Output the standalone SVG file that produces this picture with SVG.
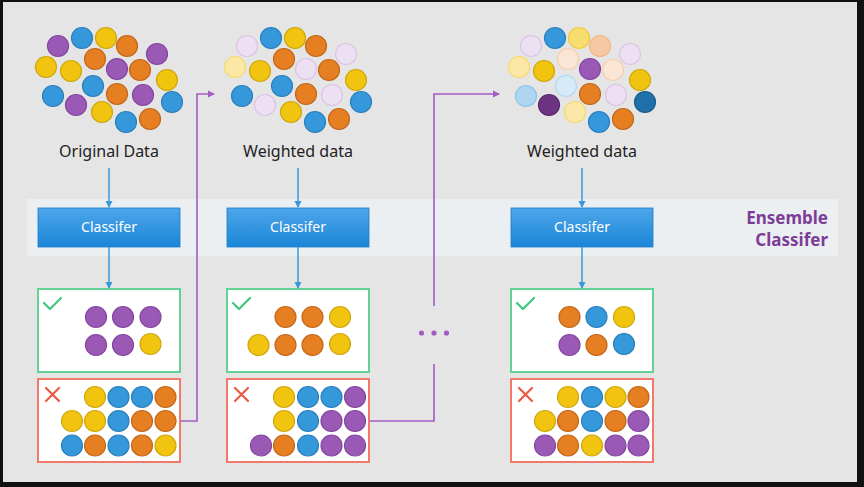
<svg xmlns="http://www.w3.org/2000/svg" width="864" height="487" viewBox="0 0 864 487">
<defs>
<linearGradient id="gb" x1="0" y1="0" x2="0" y2="1">
<stop offset="0" stop-color="#4da6e9"/>
<stop offset="1" stop-color="#1b86d7"/>
</linearGradient>
<marker id="ab" markerWidth="8" markerHeight="8" refX="6" refY="4" orient="auto" markerUnits="userSpaceOnUse">
<path d="M0,0.5 L7,4 L0,7.5 Z" fill="#3a9ad9"/>
</marker>
<marker id="ap" markerWidth="8" markerHeight="8" refX="6" refY="4" orient="auto" markerUnits="userSpaceOnUse">
<path d="M0,0.5 L7,4 L0,7.5 Z" fill="#a25cc2"/>
</marker>
</defs>
<style>
circle{stroke-width:1.2}
.P{fill:#9b59b6;stroke:#8446a0}
.B{fill:#3498db;stroke:#2a7fba}
.Y{fill:#f1c40f;stroke:#cfa70c}
.O{fill:#e67e22;stroke:#c2671a}
.LP{fill:#ede0f2;stroke:#dcc3e6}
.LY{fill:#fbe8a6;stroke:#f6d96e}
.MY{fill:#f7dc6f;stroke:#eecb3c}
.LO{fill:#f6c9a4;stroke:#f0b784}
.VLO{fill:#fbe5d4;stroke:#f5cfae}
.LB{fill:#aed6f1;stroke:#8cc4ec}
.VLB{fill:#d6eaf8;stroke:#b4d9f3}
.DB{fill:#1f6fa8;stroke:#1a5d8c}
.DP{fill:#6c3483;stroke:#5b2a6f}
.lbl{font-family:"Noto Sans","Open Sans",sans-serif;font-size:16px;fill:#222;text-anchor:middle}
.cls rect{fill:url(#gb);stroke:#1a7ccc;stroke-width:0.8}
.cls text{font-family:"Noto Sans","Open Sans",sans-serif;font-size:14px;fill:#fff;text-anchor:middle}
.ok{fill:#fff;stroke:#62d295;stroke-width:2}
.bad{fill:#fff;stroke:#f0796a;stroke-width:2}
.chk{fill:none;stroke:#3fc77a;stroke-width:2.2;stroke-linecap:round;stroke-linejoin:round}
.x{fill:none;stroke:#eb5a45;stroke-width:2.2;stroke-linecap:round}
.cb{fill:none;stroke:#3a9ad9;stroke-width:1.5}
.cp{fill:none;stroke:#a25cc2;stroke-width:1.6}
.ens{font-family:"Noto Sans","Open Sans",sans-serif;font-size:17px;font-weight:bold;fill:#7d3c98;text-anchor:end}
</style>
<rect x="0" y="0" width="864" height="487" fill="#111"/>
<rect x="3" y="2" width="854" height="480" fill="#e5e5e5"/>
<rect x="27" y="199" width="811" height="57" fill="#ebeff1"/>
<text class="ens" x="828" y="224">Ensemble</text>
<text class="ens" x="828" y="246">Classifer</text>

<g id="data1">
<circle class="P" cx="58" cy="46" r="10.5"/><circle class="B" cx="82" cy="38" r="10.5"/><circle class="Y" cx="106" cy="38" r="10.5"/><circle class="O" cx="127" cy="46" r="10.5"/><circle class="P" cx="157" cy="54" r="10.5"/>
<circle class="Y" cx="46" cy="67" r="10.5"/><circle class="Y" cx="71" cy="71" r="10.5"/><circle class="O" cx="95" cy="59" r="10.5"/><circle class="P" cx="117" cy="69" r="10.5"/><circle class="O" cx="140" cy="70" r="10.5"/><circle class="Y" cx="167" cy="80" r="10.5"/>
<circle class="B" cx="53" cy="96" r="10.5"/><circle class="B" cx="93" cy="86" r="10.5"/><circle class="O" cx="117" cy="94" r="10.5"/><circle class="P" cx="143" cy="95" r="10.5"/><circle class="B" cx="172" cy="102" r="10.5"/>
<circle class="P" cx="76" cy="105" r="10.5"/><circle class="Y" cx="102" cy="112" r="10.5"/><circle class="B" cx="126" cy="122" r="10.5"/><circle class="O" cx="150" cy="119" r="10.5"/>
<text class="lbl" x="109" y="157">Original Data</text>
</g>

<g id="data2" transform="translate(189,0)">
<circle class="LP" cx="58" cy="46" r="10.5"/><circle class="B" cx="82" cy="38" r="10.5"/><circle class="Y" cx="106" cy="38" r="10.5"/><circle class="O" cx="127" cy="46" r="10.5"/><circle class="LP" cx="157" cy="54" r="10.5"/>
<circle class="LY" cx="46" cy="67" r="10.5"/><circle class="Y" cx="71" cy="71" r="10.5"/><circle class="O" cx="95" cy="59" r="10.5"/><circle class="LP" cx="117" cy="69" r="10.5"/><circle class="O" cx="140" cy="70" r="10.5"/><circle class="Y" cx="167" cy="80" r="10.5"/>
<circle class="B" cx="53" cy="96" r="10.5"/><circle class="B" cx="93" cy="86" r="10.5"/><circle class="O" cx="117" cy="94" r="10.5"/><circle class="LP" cx="143" cy="95" r="10.5"/><circle class="B" cx="172" cy="102" r="10.5"/>
<circle class="LP" cx="76" cy="105" r="10.5"/><circle class="Y" cx="102" cy="112" r="10.5"/><circle class="B" cx="126" cy="122" r="10.5"/><circle class="O" cx="150" cy="119" r="10.5"/>
<text class="lbl" x="109" y="157">Weighted data</text>
</g>

<g id="data3" transform="translate(473,0)">
<circle class="LP" cx="58" cy="46" r="10.5"/><circle class="B" cx="82" cy="38" r="10.5"/><circle class="MY" cx="106" cy="38" r="10.5"/><circle class="LO" cx="127" cy="46" r="10.5"/><circle class="LP" cx="157" cy="54" r="10.5"/>
<circle class="LY" cx="46" cy="67" r="10.5"/><circle class="Y" cx="71" cy="71" r="10.5"/><circle class="VLO" cx="95" cy="59" r="10.5"/><circle class="P" cx="117" cy="69" r="10.5"/><circle class="VLO" cx="140" cy="70" r="10.5"/><circle class="Y" cx="167" cy="80" r="10.5"/>
<circle class="LB" cx="53" cy="96" r="10.5"/><circle class="VLB" cx="93" cy="86" r="10.5"/><circle class="O" cx="117" cy="94" r="10.5"/><circle class="LP" cx="143" cy="95" r="10.5"/><circle class="DB" cx="172" cy="102" r="10.5"/>
<circle class="DP" cx="76" cy="105" r="10.5"/><circle class="LY" cx="102" cy="112" r="10.5"/><circle class="B" cx="126" cy="122" r="10.5"/><circle class="O" cx="150" cy="119" r="10.5"/>
<text class="lbl" x="109" y="157">Weighted data</text>
</g>

<g id="classifier1" class="cls"><rect x="38" y="208" width="142" height="39"/><text x="109" y="232">Classifer</text></g>
<g id="classifier2" class="cls"><rect x="227" y="208" width="142" height="39"/><text x="298" y="232">Classifer</text></g>
<g id="classifier3" class="cls"><rect x="511" y="208" width="142" height="39"/><text x="582" y="232">Classifer</text></g>

<g id="correct1">
<rect class="ok" x="38" y="289" width="142" height="83"/>
<path class="chk" d="M44,303 L50,309 L61,298"/>
<circle class="P" cx="96" cy="317" r="10.5"/><circle class="P" cx="123" cy="317" r="10.5"/><circle class="P" cx="150.5" cy="317" r="10.5"/>
<circle class="P" cx="96" cy="345" r="10.5"/><circle class="P" cx="123" cy="345" r="10.5"/><circle class="Y" cx="150.5" cy="344" r="10.5"/>
</g>
<g id="wrong1">
<rect class="bad" x="38" y="379" width="142" height="83"/>
<path class="x" d="M46,388 L59,401 M59,388 L46,401"/>
<circle class="Y" cx="95" cy="397" r="10.5"/><circle class="B" cx="118.5" cy="397" r="10.5"/><circle class="B" cx="142" cy="397" r="10.5"/><circle class="O" cx="165.5" cy="397" r="10.5"/>
<circle class="Y" cx="72" cy="421" r="10.5"/><circle class="Y" cx="95" cy="421" r="10.5"/><circle class="B" cx="118.5" cy="421" r="10.5"/><circle class="O" cx="142" cy="421" r="10.5"/><circle class="O" cx="165.5" cy="421" r="10.5"/>
<circle class="B" cx="72" cy="445.5" r="10.5"/><circle class="O" cx="95" cy="445.5" r="10.5"/><circle class="B" cx="118.5" cy="445.5" r="10.5"/><circle class="O" cx="142" cy="445.5" r="10.5"/><circle class="Y" cx="165.5" cy="445.5" r="10.5"/>
</g>

<g id="correct2">
<rect class="ok" x="227" y="289" width="142" height="83"/>
<path class="chk" d="M233,303 L239,309 L250,298"/>
<circle class="O" cx="285.5" cy="317" r="10.5"/><circle class="O" cx="312.5" cy="317" r="10.5"/><circle class="Y" cx="340" cy="317" r="10.5"/>
<circle class="Y" cx="258.5" cy="345" r="10.5"/><circle class="O" cx="285.5" cy="345" r="10.5"/><circle class="O" cx="312.5" cy="345" r="10.5"/><circle class="Y" cx="340" cy="344" r="10.5"/>
</g>
<g id="wrong2">
<rect class="bad" x="227" y="379" width="142" height="83"/>
<path class="x" d="M235,388 L248,401 M248,388 L235,401"/>
<circle class="Y" cx="284" cy="397" r="10.5"/><circle class="B" cx="308" cy="397" r="10.5"/><circle class="B" cx="331.5" cy="397" r="10.5"/><circle class="P" cx="355" cy="397" r="10.5"/>
<circle class="Y" cx="284" cy="421" r="10.5"/><circle class="B" cx="308" cy="421" r="10.5"/><circle class="P" cx="331.5" cy="421" r="10.5"/><circle class="P" cx="355" cy="421" r="10.5"/>
<circle class="P" cx="261" cy="445.5" r="10.5"/><circle class="O" cx="284" cy="445.5" r="10.5"/><circle class="B" cx="308" cy="445.5" r="10.5"/><circle class="P" cx="331.5" cy="445.5" r="10.5"/><circle class="P" cx="355" cy="445.5" r="10.5"/>
</g>

<g id="correct3">
<rect class="ok" x="511" y="289" width="142" height="83"/>
<path class="chk" d="M517,303 L523,309 L534,298"/>
<circle class="O" cx="569.5" cy="317" r="10.5"/><circle class="B" cx="596.5" cy="317" r="10.5"/><circle class="Y" cx="624" cy="317" r="10.5"/>
<circle class="P" cx="569.5" cy="345" r="10.5"/><circle class="O" cx="596.5" cy="345" r="10.5"/><circle class="B" cx="624" cy="344" r="10.5"/>
</g>
<g id="wrong3">
<rect class="bad" x="511" y="379" width="142" height="83"/>
<path class="x" d="M519,388 L532,401 M532,388 L519,401"/>
<circle class="Y" cx="568" cy="397" r="10.5"/><circle class="B" cx="592" cy="397" r="10.5"/><circle class="Y" cx="615.5" cy="397" r="10.5"/><circle class="O" cx="638.5" cy="397" r="10.5"/>
<circle class="Y" cx="545" cy="421" r="10.5"/><circle class="O" cx="568" cy="421" r="10.5"/><circle class="B" cx="592" cy="421" r="10.5"/><circle class="O" cx="615.5" cy="421" r="10.5"/><circle class="P" cx="638.5" cy="421" r="10.5"/>
<circle class="P" cx="545" cy="445.5" r="10.5"/><circle class="O" cx="568" cy="445.5" r="10.5"/><circle class="Y" cx="592" cy="445.5" r="10.5"/><circle class="P" cx="615.5" cy="445.5" r="10.5"/><circle class="P" cx="638.5" cy="445.5" r="10.5"/>
</g>

<g id="connectors">
<line class="cb" x1="109" y1="168" x2="109" y2="207" marker-end="url(#ab)"/>
<line class="cb" x1="298" y1="168" x2="298" y2="207" marker-end="url(#ab)"/>
<line class="cb" x1="582" y1="168" x2="582" y2="207" marker-end="url(#ab)"/>
<line class="cb" x1="109" y1="247" x2="109" y2="288" marker-end="url(#ab)"/>
<line class="cb" x1="298" y1="247" x2="298" y2="288" marker-end="url(#ab)"/>
<line class="cb" x1="582" y1="247" x2="582" y2="288" marker-end="url(#ab)"/>
<path class="cp" d="M181,421 H197 V94 H214" marker-end="url(#ap)"/>
<path class="cp" d="M370,421 H434 V364"/>
<path class="cp" d="M434,306 V94 H499" marker-end="url(#ap)"/>
<circle cx="421.5" cy="333" r="2.6" fill="#a25cc2"/>
<circle cx="434" cy="333" r="2.6" fill="#a25cc2"/>
<circle cx="446.5" cy="333" r="2.6" fill="#a25cc2"/>
</g>
</svg>
